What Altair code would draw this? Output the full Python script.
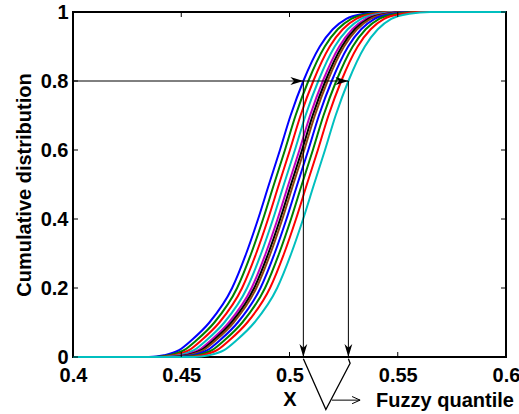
import altair as alt
import pandas as pd

# ---- data ----
PROBS = [0, 0.005, 0.02, 0.05, 0.1, 0.2, 0.3, 0.4, 0.5, 0.6, 0.7, 0.8, 0.9, 0.95, 0.98, 0.995, 1.0]

CURVE_BLUE1 = [0.4350, 0.4420, 0.4490, 0.4550, 0.4630, 0.4735, 0.4800, 0.4855, 0.4905, 0.4956, 0.5005, 0.5064, 0.5140, 0.5200, 0.5262, 0.5345, 0.5420]
CURVE_GREEN1 = [0.4373, 0.4443, 0.4513, 0.4573, 0.4653, 0.4758, 0.4823, 0.4878, 0.4928, 0.4979, 0.5028, 0.5087, 0.5163, 0.5223, 0.5285, 0.5368, 0.5443]
CURVE_RED1 = [0.4396, 0.4466, 0.4536, 0.4596, 0.4676, 0.4781, 0.4846, 0.4901, 0.4951, 0.5002, 0.5051, 0.5110, 0.5186, 0.5246, 0.5308, 0.5391, 0.5466]
CURVE_CYAN1 = [0.4419, 0.4489, 0.4559, 0.4619, 0.4699, 0.4804, 0.4869, 0.4924, 0.4974, 0.5025, 0.5074, 0.5133, 0.5209, 0.5269, 0.5331, 0.5414, 0.5489]
CURVE_MAGENTA = [0.4440, 0.4510, 0.4580, 0.4640, 0.4720, 0.4825, 0.4890, 0.4945, 0.4995, 0.5046, 0.5095, 0.5154, 0.5230, 0.5290, 0.5352, 0.5435, 0.5510]
CURVE_BLACK = [0.4452, 0.4522, 0.4592, 0.4652, 0.4732, 0.4837, 0.4902, 0.4957, 0.5007, 0.5058, 0.5107, 0.5166, 0.5242, 0.5302, 0.5364, 0.5447, 0.5522]
CURVE_BROWN = [0.4462, 0.4532, 0.4602, 0.4662, 0.4742, 0.4847, 0.4912, 0.4967, 0.5017, 0.5068, 0.5117, 0.5176, 0.5252, 0.5312, 0.5374, 0.5457, 0.5532]
CURVE_BLUE2 = [0.4481, 0.4551, 0.4621, 0.4681, 0.4761, 0.4866, 0.4931, 0.4986, 0.5036, 0.5087, 0.5136, 0.5195, 0.5271, 0.5331, 0.5393, 0.5476, 0.5551]
CURVE_GREEN2 = [0.4502, 0.4572, 0.4642, 0.4702, 0.4782, 0.4887, 0.4952, 0.5007, 0.5057, 0.5108, 0.5157, 0.5216, 0.5292, 0.5352, 0.5414, 0.5497, 0.5572]
CURVE_RED2 = [0.4525, 0.4595, 0.4665, 0.4725, 0.4805, 0.4910, 0.4975, 0.5030, 0.5080, 0.5131, 0.5180, 0.5239, 0.5315, 0.5375, 0.5437, 0.5520, 0.5595]
CURVE_CYAN2 = [0.4558, 0.4628, 0.4698, 0.4758, 0.4838, 0.4943, 0.5008, 0.5063, 0.5113, 0.5164, 0.5213, 0.5272, 0.5348, 0.5408, 0.5470, 0.5553, 0.5650]

CURVES = [CURVE_BLUE1, CURVE_GREEN1, CURVE_RED1, CURVE_CYAN1, CURVE_MAGENTA, CURVE_BLACK,
          CURVE_BROWN, CURVE_BLUE2, CURVE_GREEN2, CURVE_RED2, CURVE_CYAN2]
CURVE_COLORS = ["#0000FF", "#008000", "#FF0000", "#00BFBF", "#BF00BF", "#000000",
                "#8B4513", "#0000FF", "#008000", "#FF0000", "#00BFBF"]

X_TICKS = [0.4, 0.45, 0.5, 0.55, 0.6]
Y_TICKS = [0, 0.2, 0.4, 0.6, 0.8, 1.0]
X_DOMAIN = [0.4, 0.6]
Y_DOMAIN = [0, 1]
LEVEL = 0.8  # probability level of the quantile

# annotation below the axis (fuzzy triangle + label)
TRI_APEX_Y = -0.152
FUZZY_ROW_Y = -0.125
FUZZY_ARROW_X = [0.5196, 0.5326]
FUZZY_TEXT_X = 0.540
FUZZY_TEXT_Y = -0.1435

W, H = 433, 345
FONT = "Liberation Sans"

# ---- tables ----
names = [f"c{i:02d}" for i in range(len(CURVES))]
rows = []
for name, xs in zip(names, CURVES):
    rows.append({"curve": name, "x": X_DOMAIN[0], "p": 0.0})
    for xv, pv in zip(xs, PROBS):
        rows.append({"curve": name, "x": xv, "p": pv})
    rows.append({"curve": name, "x": X_DOMAIN[1], "p": 1.0})
curves_df = pd.DataFrame(rows)

i_lev = PROBS.index(LEVEL)
q_left = CURVES[0][i_lev]
q_right = CURVES[-1][i_lev]
q_mid = (q_left + q_right) / 2

xscale = alt.Scale(domain=X_DOMAIN, nice=False, zero=False)
yscale = alt.Scale(domain=Y_DOMAIN, nice=False, zero=False)

x_axis = alt.Axis(values=X_TICKS, format="~g", title="X", grid=False, domain=False,
                  tickSize=0, labelPadding=8, labelFlush=False, labelOverlap=False,
                  titleY=48, titleBaseline="alphabetic")
y_axis = alt.Axis(values=Y_TICKS, format="~g", title="Cumulative distribution", grid=False,
                  domain=False, tickSize=0, labelPadding=5, labelFlush=False, labelOverlap=False,
                  titleX=-43, titleY=H / 2, titleAngle=270, titleBaseline="alphabetic",
                  titleAlign="center")


def X(f):
    return alt.X(f, type="quantitative", scale=xscale, axis=x_axis)


def Y(f):
    return alt.Y(f, type="quantitative", scale=yscale, axis=y_axis)


lines = alt.Chart(curves_df).mark_line(strokeWidth=2, interpolate="monotone").encode(
    x=X("x"), y=Y("p"),
    color=alt.Color("curve:N", scale=alt.Scale(domain=names, range=CURVE_COLORS), legend=None),
)

# inward ticks on all four sides
xt = pd.DataFrame({"t": X_TICKS})
yt = pd.DataFrame({"t": Y_TICKS})
tick_b = alt.Chart(xt).mark_rule(color="black", strokeWidth=1).encode(
    x=X("t"), y=alt.value(H), y2=alt.value(H - 5))
tick_t = alt.Chart(xt).mark_rule(color="black", strokeWidth=1).encode(
    x=X("t"), y=alt.value(0), y2=alt.value(5))
tick_l = alt.Chart(yt).mark_rule(color="black", strokeWidth=1).encode(
    y=Y("t"), x=alt.value(0), x2=alt.value(5))
tick_r = alt.Chart(yt).mark_rule(color="black", strokeWidth=1).encode(
    y=Y("t"), x=alt.value(W), x2=alt.value(W - 5))

# quantile construction lines
hrule_df = pd.DataFrame({"x": [X_DOMAIN[0]], "x2": [q_right], "y": [LEVEL]})
hrule = alt.Chart(hrule_df).mark_rule(color="black", strokeWidth=1).encode(
    x=X("x"), x2="x2:Q", y=Y("y"))
vrule_df = pd.DataFrame({"x": [q_left, q_right], "y": [LEVEL, LEVEL], "y2": [0, 0]})
vrule = alt.Chart(vrule_df).mark_rule(color="black", strokeWidth=1).encode(
    x=X("x"), y=Y("y"), y2="y2:Q")

ARROW = "M0,0L-1,-0.3L-0.72,0L-1,0.3Z"
heads_df = pd.DataFrame({"x": [q_left, q_right, q_left, q_right],
                         "y": [LEVEL, LEVEL, 0, 0],
                         "a": [0, 0, 90, 90]})
heads = alt.Chart(heads_df).mark_point(shape=ARROW, filled=True, color="black", opacity=1,
                                       size=676).encode(
    x=X("x"), y=Y("y"), angle=alt.Angle("a:Q", scale=None))

# fuzzy triangle
tri_df = pd.DataFrame({"x": [q_left, q_mid, q_right + 0.0008, q_right],
                       "y": [-0.005, TRI_APEX_Y, -0.018, -0.005],
                       "o": [0, 1, 2, 3]})
tri = alt.Chart(tri_df).mark_line(color="black", strokeWidth=1.3).encode(
    x=X("x"), y=Y("y"), order="o:O")

farrow_df = pd.DataFrame({"x": [FUZZY_ARROW_X[0]], "x2": [FUZZY_ARROW_X[1]], "y": [FUZZY_ROW_Y]})
farrow = alt.Chart(farrow_df).mark_rule(color="black", strokeWidth=1).encode(
    x=X("x"), x2="x2:Q", y=Y("y"))
fhead_df = pd.DataFrame({"x": [FUZZY_ARROW_X[1]], "y": [FUZZY_ROW_Y]})
fhead = alt.Chart(fhead_df).mark_point(shape="M-1,-0.45L0,0L-1,0.45", filled=False,
                                       color="black", strokeWidth=1, opacity=1, size=256).encode(
    x=X("x"), y=Y("y"))

ftext_df = pd.DataFrame({"x": [FUZZY_TEXT_X], "y": [FUZZY_TEXT_Y], "label": ["Fuzzy quantile"]})
ftext = alt.Chart(ftext_df).mark_text(align="left", baseline="alphabetic", font=FONT,
                                      fontSize=20, fontWeight="bold", color="black").encode(
    x=X("x"), y=Y("y"), text="label:N")

chart = alt.layer(lines, hrule, vrule, heads, tick_b, tick_t, tick_l, tick_r,
                  tri, farrow, fhead, ftext).properties(
    width=W, height=H,
    padding={"left": 73, "top": 12, "right": 13, "bottom": 57},
    autosize=alt.AutoSizeParams(type="none"),
    background="white",
).configure_view(stroke="black", strokeWidth=2).configure_axis(
    labelFont=FONT, labelFontSize=20, labelFontWeight="bold", labelColor="black",
    titleFont=FONT, titleFontSize=20, titleFontWeight="bold", titleColor="black",
)

chart.save("out.html", embed_options={"renderer": "svg", "actions": False})
